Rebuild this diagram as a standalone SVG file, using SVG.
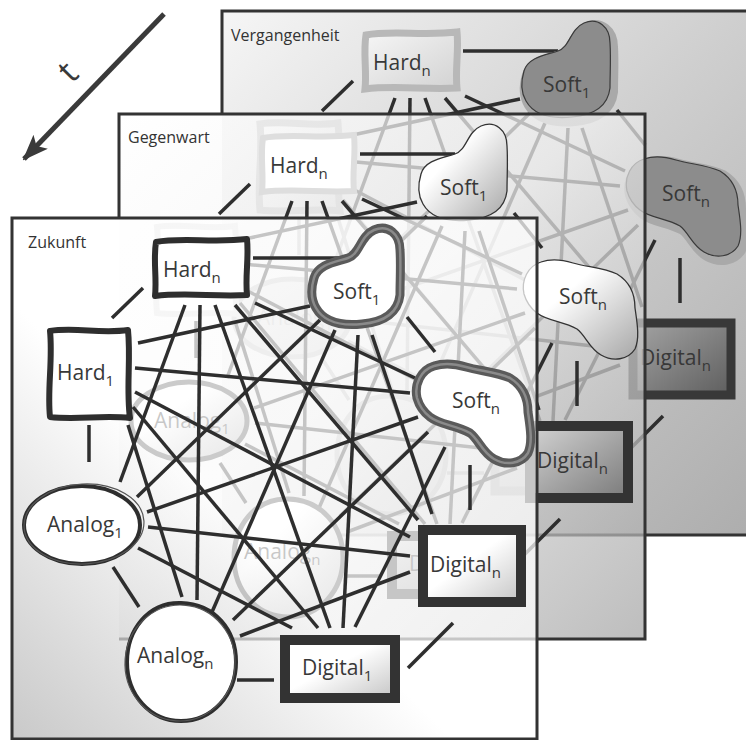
<svg xmlns="http://www.w3.org/2000/svg" xmlns:xlink="http://www.w3.org/1999/xlink" width="746" height="740" viewBox="0 0 746 740">
<style>
.pfill{stroke:none;fill-opacity:0.72}
.pborder{fill:none;stroke:#333;stroke-width:3}
.edge line{stroke:#2e2e2e;stroke-width:3.5;stroke-linecap:butt}
.lbl{font-family:"Open Sans","Liberation Sans",sans-serif;font-size:21px;fill:#383838}
.sub{font-size:15px}
.title{font-family:"Open Sans","Liberation Sans",sans-serif;font-size:16px;fill:#333}
.fbox{fill:#fff;stroke:#2e2e2e;stroke-width:6;stroke-linejoin:round}
.fsoft{fill:#fff;stroke:#5a5a5a;stroke-width:9;stroke-linejoin:round}
.fsoft2{fill:none;stroke:#8a8a8a;stroke-width:2.5}
.fana{fill:#fff;stroke:#2e2e2e;stroke-width:4}
.fana2{fill:none;stroke:#555;stroke-width:1.2}
.fdig{fill:url(#gFDig);stroke:#333;stroke-width:10}
.mbox{fill:#fff;stroke:#dedede;stroke-width:6}
.msoft{fill:url(#gMNode);stroke:#333;stroke-width:1.3}
.mana{fill:url(#gMNode);stroke:#444;stroke-width:5}
.mdig{fill:url(#gMDig);stroke:#333;stroke-width:10}
.bbox{fill:url(#gBBox);stroke:#b8b8b8;stroke-width:7}
.bhalo{fill:#a9a9a9;stroke:#a9a9a9;stroke-width:10}
.bsoft{fill:#8c8c8c;stroke:#3a3a3a;stroke-width:1.2}
.bana{fill:url(#gBNode);stroke:#444;stroke-width:5}
.bdig{fill:url(#gBDig);stroke:#383838;stroke-width:9}
</style>
<defs>
<linearGradient id="gFront" x1="0" y1="1" x2="0.7" y2="0.3"><stop offset="0" stop-color="#b4b4b4"/><stop offset="0.6" stop-color="#ffffff"/></linearGradient>
<linearGradient id="gMid" x1="0" y1="0" x2="1" y2="1"><stop offset="0" stop-color="#ffffff"/><stop offset="0.45" stop-color="#f0f0f0"/><stop offset="1" stop-color="#a4a4a4"/></linearGradient>
<linearGradient id="gBack" x1="0" y1="0" x2="1" y2="1"><stop offset="0" stop-color="#f2f2f2"/><stop offset="0.5" stop-color="#bcbcbc"/><stop offset="1" stop-color="#8e8e8e"/></linearGradient>
<linearGradient id="gFDig" x1="0" y1="0" x2="1" y2="1"><stop offset="0.45" stop-color="#ffffff"/><stop offset="1" stop-color="#c4c4c4"/></linearGradient>
<linearGradient id="gMNode" x1="0" y1="0" x2="1" y2="1"><stop offset="0.35" stop-color="#ffffff"/><stop offset="1" stop-color="#a6a6a6"/></linearGradient>
<linearGradient id="gMDig" x1="0" y1="0" x2="1" y2="1"><stop offset="0" stop-color="#d4d4d4"/><stop offset="1" stop-color="#7a7a7a"/></linearGradient>
<linearGradient id="gBBox" x1="0" y1="0" x2="1" y2="1"><stop offset="0" stop-color="#f6f6f6"/><stop offset="1" stop-color="#d2d2d2"/></linearGradient>
<linearGradient id="gBNode" x1="0" y1="0" x2="1" y2="1"><stop offset="0" stop-color="#c8c8c8"/><stop offset="1" stop-color="#7a7a7a"/></linearGradient>
<linearGradient id="gBDig" x1="0" y1="0" x2="1" y2="1"><stop offset="0" stop-color="#a4a4a4"/><stop offset="1" stop-color="#5e5e5e"/></linearGradient>
<path id="sh-hardn" d="M156,242 C180,237 214,243 247,239 C249,258 245,276 247,295 C215,297 186,292 155,296 C157,278 153,260 156,242 Z"/>
<path id="sh-hard1" d="M50,331 C75,327 101,334 128,330 C131,360 126,390 130,418 C104,415 76,420 50,417 C47,390 53,360 50,331 Z"/>
<path id="sh-soft1" d="M314,278 C318,264 336,262 348,258 C360,254 360,236 374,230 C388,224 400,234 400,250 C401,265 400,280 400,295 C398,312 385,322 362,324 C342,326 324,322 316,308 C310,298 311,288 314,278 Z"/>
<path id="sh-softn" d="M417,398 C414,384 421,370 434,366 C446,362 456,364 466,367 C480,371 497,372 510,378 C523,386 528,398 528,412 C530,426 533,442 528,453 C521,464 506,466 494,459 C482,452 479,440 470,433 C456,425 440,425 430,417 C422,411 419,405 417,398 Z"/>
<ellipse id="sh-analog1" cx="82" cy="525" rx="58" ry="39"/>
<path id="sh-analogn" d="M181,603 C215,604 236,630 236,662 C236,695 212,721 181,721 C150,721 127,695 127,662 C127,630 148,602 181,603 Z"/>
<rect id="sh-digital1" x="285" y="640" width="110" height="58"/>
<rect id="sh-digitaln" x="423" y="530" width="98" height="72"/>
<marker id="arrowHead" viewBox="0 0 26 20" refX="24" refY="10" markerWidth="26" markerHeight="20" markerUnits="userSpaceOnUse" orient="auto"><path d="M0,0 L26,10 L0,20 L6,10 Z" fill="#3a3a3a"/></marker>
</defs>

<!-- Vergangenheit panel -->
<g id="panel-past">
<rect class="pfill" x="222" y="11" width="526" height="524" fill="url(#gBack)" fill-opacity="1"/>
<path class="pborder" d="M222,114 V11 H748 M748,535 H222"/>
</g>
<g id="layer-past" transform="translate(210,-207)">
<use id="past-connectors" href="#front-connectors"/>
<g id="past-hardn"><use href="#sh-hardn" class="bbox"/><text class="lbl" x="163" y="277">Hard<tspan class="sub" dy="6">n</tspan></text></g>
<g id="past-hard1"><use href="#sh-hard1" class="bbox"/></g>
<g id="past-soft1"><use href="#sh-soft1" class="bhalo" transform="translate(3,4)"/><use href="#sh-soft1" class="bsoft"/><text class="lbl" x="333" y="299">Soft<tspan class="sub" dy="6">1</tspan></text></g>
<g id="past-softn"><use href="#sh-softn" class="bhalo" transform="translate(3,4)"/><use href="#sh-softn" class="bsoft"/><text class="lbl" x="452" y="408">Soft<tspan class="sub" dy="6">n</tspan></text></g>
<g id="past-analog1"><use href="#sh-analog1" class="bana"/><text class="lbl" x="47" y="532">Analog<tspan class="sub" dy="6">1</tspan></text></g>
<g id="past-analogn"><use href="#sh-analogn" class="bana"/></g>
<g id="past-digital1"><use href="#sh-digital1" class="bdig"/></g>
<g id="past-digitaln"><use href="#sh-digitaln" class="bdig"/><text class="lbl" x="430" y="572">Digital<tspan class="sub" dy="6">n</tspan></text></g>
</g>

<!-- Gegenwart panel -->
<g id="panel-present">
<rect class="pfill" x="119" y="114" width="526" height="525" fill="url(#gMid)"/>
<path class="pborder" d="M119,218 V114 H645 V639 H119"/>
</g>
<g id="layer-present" transform="translate(107,-104)">
<use id="present-connectors" href="#front-connectors"/>
<g id="present-hardn"><use href="#sh-hardn" class="mbox"/><text class="lbl" x="163" y="277">Hard<tspan class="sub" dy="6">n</tspan></text></g>
<g id="present-hard1"><use href="#sh-hard1" class="mbox"/></g>
<g id="present-soft1"><use href="#sh-soft1" class="msoft"/><text class="lbl" x="333" y="299">Soft<tspan class="sub" dy="6">1</tspan></text></g>
<g id="present-softn"><use href="#sh-softn" class="msoft"/><text class="lbl" x="452" y="408">Soft<tspan class="sub" dy="6">n</tspan></text></g>
<g id="present-analog1"><use href="#sh-analog1" class="mana"/><text class="lbl" x="47" y="532">Analog<tspan class="sub" dy="6">1</tspan></text></g>
<g id="present-analogn"><use href="#sh-analogn" class="mana"/><text class="lbl" x="137" y="663">Analog<tspan class="sub" dy="6">n</tspan></text></g>
<g id="present-digital1"><use href="#sh-digital1" class="mdig"/><text class="lbl" x="302" y="675">Digital<tspan class="sub" dy="6">1</tspan></text></g>
<g id="present-digitaln"><use href="#sh-digitaln" class="mdig"/><text class="lbl" x="430" y="572">Digital<tspan class="sub" dy="6">n</tspan></text></g>
</g>

<!-- Zukunft panel -->
<g id="panel-future">
<rect class="pfill" x="12" y="218" width="525" height="521" fill="url(#gFront)"/>
<rect class="pborder" x="12" y="218" width="525" height="521"/>
</g>
<g id="layer-future">
<g id="front-connectors" class="edge">
<line x1="253" y1="258" x2="348" y2="258"/>
<line x1="112" y1="318" x2="143" y2="288"/>
<line x1="89" y1="425" x2="89" y2="462"/>
<line x1="113" y1="567" x2="139" y2="607"/>
<line x1="237" y1="680" x2="274" y2="680"/>
<line x1="408" y1="668" x2="453" y2="623"/>
<line x1="470" y1="465" x2="470" y2="510"/>
<line x1="407" y1="317" x2="435" y2="352"/>
<line x1="185" y1="305" x2="120" y2="482"/>
<line x1="200" y1="305" x2="197" y2="600"/>
<line x1="215" y1="305" x2="330" y2="628"/>
<line x1="235" y1="305" x2="418" y2="520"/>
<line x1="255" y1="303" x2="415" y2="378"/>
<line x1="310" y1="306" x2="138" y2="343"/>
<line x1="320" y1="320" x2="137" y2="497"/>
<line x1="335" y1="330" x2="212" y2="612"/>
<line x1="358" y1="335" x2="343" y2="628"/>
<line x1="372" y1="335" x2="432" y2="514"/>
<line x1="135" y1="368" x2="410" y2="393"/>
<line x1="135" y1="392" x2="410" y2="537"/>
<line x1="133" y1="407" x2="318" y2="628"/>
<line x1="128" y1="425" x2="182" y2="597"/>
<line x1="147" y1="512" x2="418" y2="417"/>
<line x1="148" y1="527" x2="410" y2="556"/>
<line x1="138" y1="548" x2="292" y2="628"/>
<line x1="233" y1="620" x2="428" y2="432"/>
<line x1="240" y1="636" x2="410" y2="572"/>
<line x1="355" y1="627" x2="445" y2="447"/>
</g>
<g id="future-hardn"><use href="#sh-hardn" class="fbox"/><text class="lbl" x="163" y="277">Hard<tspan class="sub" dy="6">n</tspan></text></g>
<g id="future-hard1"><use href="#sh-hard1" class="fbox"/><text class="lbl" x="57" y="380">Hard<tspan class="sub" dy="6">1</tspan></text></g>
<g id="future-soft1"><use href="#sh-soft1" class="fsoft"/><use href="#sh-soft1" class="fsoft2"/><text class="lbl" x="333" y="299">Soft<tspan class="sub" dy="6">1</tspan></text></g>
<g id="future-softn"><use href="#sh-softn" class="fsoft"/><use href="#sh-softn" class="fsoft2"/><text class="lbl" x="452" y="408">Soft<tspan class="sub" dy="6">n</tspan></text></g>
<g id="future-analog1"><use href="#sh-analog1" class="fana"/><ellipse class="fana2" cx="84" cy="524" rx="60" ry="40" transform="rotate(-3 84 524)"/><text class="lbl" x="47" y="532">Analog<tspan class="sub" dy="6">1</tspan></text></g>
<g id="future-analogn"><use href="#sh-analogn" class="fana"/><ellipse class="fana2" cx="180" cy="663" rx="55" ry="58" transform="rotate(4 180 663)"/><text class="lbl" x="137" y="663">Analog<tspan class="sub" dy="6">n</tspan></text></g>
<g id="future-digital1"><use href="#sh-digital1" class="fdig"/><text class="lbl" x="302" y="675">Digital<tspan class="sub" dy="6">1</tspan></text></g>
<g id="future-digitaln"><use href="#sh-digitaln" class="fdig"/><text class="lbl" x="430" y="572">Digital<tspan class="sub" dy="6">n</tspan></text></g>
</g>

<!-- titles -->
<text class="title" x="231" y="41">Vergangenheit</text>
<text class="title" x="128" y="143">Gegenwart</text>
<text class="title" x="28" y="248">Zukunft</text>

<!-- time arrow -->
<g id="time-arrow">
<line x1="164" y1="14" x2="24" y2="159" stroke="#3a3a3a" stroke-width="5" marker-end="url(#arrowHead)"/>
<text x="76" y="80" transform="rotate(-45 76 80)" font-family="Open Sans, Liberation Sans, sans-serif" font-size="34" fill="#3a3a3a" text-anchor="middle">t</text>
</g>
</svg>
